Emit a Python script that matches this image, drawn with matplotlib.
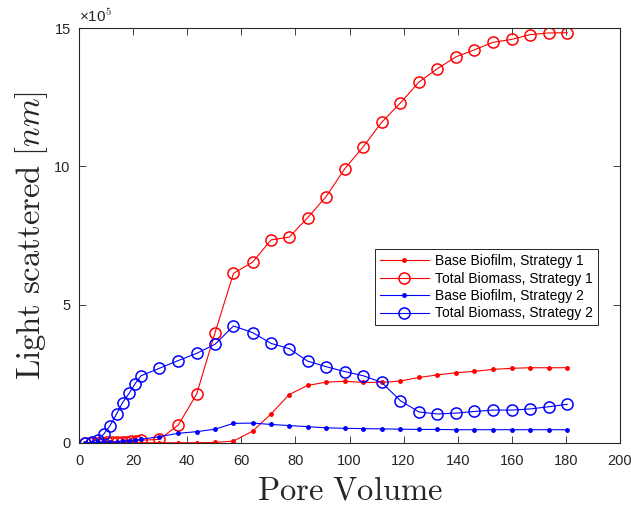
import matplotlib
matplotlib.use('Agg')
import matplotlib.pyplot as plt

plt.rcParams['font.family'] = ['Liberation Sans', 'DejaVu Sans']
plt.rcParams['mathtext.fontset'] = 'cm'

# Pore volume sample points (late, shared by all series)
pv_late = [29.7, 36.7, 43.5, 50.3, 57.1, 64.2, 71.0, 77.7, 84.5, 91.3, 98.3, 105.1,
           111.9, 118.8, 125.7, 132.5, 139.4, 146.1, 153.0, 160.0, 166.7, 173.6, 180.5]

# Strategy 1 early points (denser)
pv_s1_early = [2.3, 4.6, 7.0, 8.8, 10.5, 12.3, 14.0, 15.8, 17.5, 19.3, 21.0, 22.8]
# Strategy 2 early points
pv_s2_early = [2.2, 4.7, 7.1, 9.2, 11.5, 13.9, 16.1, 18.5, 20.8, 22.9]

pv_s1 = pv_s1_early + pv_late
pv_s2 = pv_s2_early + pv_late

# values in units of 1e5
base_s1 = [0, 0, 0, 0, 0, 0, 0, 0, 0.01, 0.01, 0.01, 0.01,
           0.01, 0.01, 0.01, 0.02, 0.07, 0.43, 1.05, 1.75, 2.08, 2.20, 2.23, 2.19,
           2.19, 2.24, 2.37, 2.46, 2.54, 2.59, 2.66, 2.70, 2.72, 2.72, 2.72]
total_s1 = [0, 0, 0.01, 0.01, 0.02, 0.02, 0.03, 0.04, 0.05, 0.06, 0.08, 0.10,
            0.13, 0.65, 1.77, 3.99, 6.13, 6.54, 7.34, 7.44, 8.14, 8.90, 9.92, 10.71,
            11.59, 12.29, 13.05, 13.53, 13.96, 14.21, 14.48, 14.59, 14.76, 14.82, 14.83]
base_s2 = [0, 0.01, 0.02, 0.03, 0.04, 0.05, 0.07, 0.09, 0.11, 0.13,
           0.23, 0.35, 0.41, 0.50, 0.71, 0.72, 0.67, 0.63, 0.59, 0.55, 0.53, 0.52,
           0.51, 0.50, 0.49, 0.49, 0.48, 0.48, 0.48, 0.48, 0.48, 0.48, 0.48]
total_s2 = [0, 0.03, 0.12, 0.33, 0.63, 1.05, 1.46, 1.79, 2.15, 2.43,
            2.70, 2.98, 3.24, 3.57, 4.23, 3.99, 3.60, 3.41, 2.96, 2.76, 2.58, 2.43,
            2.19, 1.53, 1.12, 1.05, 1.08, 1.14, 1.19, 1.19, 1.23, 1.31, 1.40]

fig = plt.figure(figsize=(6.31, 5.05), dpi=100)
ax = fig.add_axes([79 / 631, 1 - 443 / 505, 541 / 631, 415 / 505])

ax.plot(pv_s1, base_s1, color='red', marker='.', markersize=5, lw=0.8,
        label='Base Biofilm, Strategy 1')
ax.plot(pv_s1, total_s1, color='red', marker='o', markersize=8, mfc='none',
        mew=1.1, lw=0.8, label='Total Biomass, Strategy 1')
ax.plot(pv_s2, base_s2, color='blue', marker='.', markersize=5, lw=0.8,
        label='Base Biofilm, Strategy 2')
ax.plot(pv_s2, total_s2, color='blue', marker='o', markersize=8, mfc='none',
        mew=1.1, lw=0.8, label='Total Biomass, Strategy 2')

ax.set_xlim(0, 200)
ax.set_ylim(0, 15)
ax.set_xticks(range(0, 201, 20))
ax.set_yticks([0, 5, 10, 15])
ax.tick_params(direction='in', length=5, width=0.6, labelsize=10.5,
               top=True, right=True, colors='#262626')
ax.tick_params(axis='x', pad=8)
ax.tick_params(axis='y', pad=6)
for s in ax.spines.values():
    s.set_linewidth(0.8)
    s.set_color('#262626')

ax.text(0.0, 1.008, '×10$^{5}$', transform=ax.transAxes, fontsize=11,
        ha='left', va='bottom', color='#262626')

ax.set_xlabel(r'$\mathrm{Pore\ Volume}$', fontsize=23.5, color='#262626', labelpad=5)
ax.set_ylabel(r'$\mathrm{Light\ scattered}\ [nm]$', fontsize=23.5, color='#262626',
              labelpad=3)

leg = ax.legend(loc='upper right', bbox_to_anchor=(0.96, 0.467), fontsize=10,
                handlelength=3.5, fancybox=False, framealpha=1, borderaxespad=0,
                borderpad=0.35, labelspacing=0.25, handletextpad=0.5)
leg.get_frame().set_edgecolor('#262626')
leg.get_frame().set_linewidth(0.7)

fig.savefig('out.png', dpi=100)
